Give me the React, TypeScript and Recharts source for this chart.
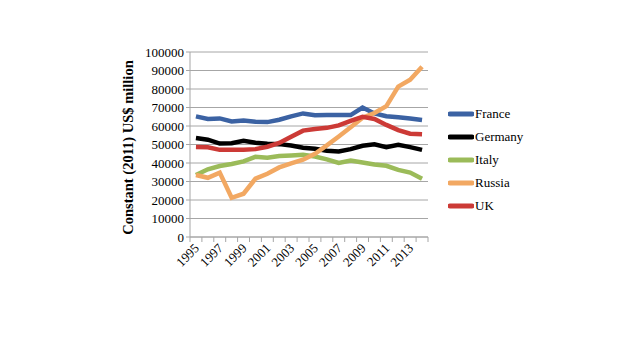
import React from 'react';
import { LineChart, Line, XAxis, YAxis, CartesianGrid, Legend } from 'recharts';

const years = [
  '1995', '1996', '1997', '1998', '1999', '2000', '2001', '2002', '2003', '2004',
  '2005', '2006', '2007', '2008', '2009', '2010', '2011', '2012', '2013', '2014',
];

const france = [65200, 63800, 64100, 62500, 63000, 62300, 62100, 63400, 65200, 66800, 65800, 65900, 66000, 65900, 70000, 66800, 65300, 64700, 64100, 63300];
const germany = [53500, 52600, 50500, 50700, 52000, 51000, 50400, 50200, 49500, 48300, 47700, 46600, 46200, 47500, 49300, 50100, 48600, 49800, 48600, 47100];
const italy = [33500, 36600, 38400, 39500, 40900, 43400, 42800, 43800, 44100, 44500, 43500, 42000, 40000, 41300, 40300, 39200, 38500, 36300, 34800, 31500];
const russia = [33500, 32000, 34800, 21200, 23400, 31500, 34200, 37600, 39800, 41800, 45000, 49500, 54300, 59300, 64500, 67000, 70700, 81300, 85000, 92000];
const uk = [48700, 48500, 47100, 47100, 47200, 47500, 48800, 50800, 54200, 57500, 58400, 59000, 60300, 62800, 65000, 63800, 60600, 57800, 55800, 55500];

const yTicks = [0, 10000, 20000, 30000, 40000, 50000, 60000, 70000, 80000, 90000, 100000];

const series = [
  { key: 'France', color: '#3b62a3' },
  { key: 'Germany', color: '#000000' },
  { key: 'Italy', color: '#9bbb59' },
  { key: 'Russia', color: '#f2a862' },
  { key: 'UK', color: '#cc3a36' },
];

const data = years.map((year, i) => ({
  year,
  France: france[i],
  Germany: germany[i],
  Italy: italy[i],
  Russia: russia[i],
  UK: uk[i],
}));

const FONT = '"Liberation Serif", serif';
const GRID = '#a6a6a6';
const STEP = 238 / 20;

function YearTick(props: any) {
  const { x, y, payload, index } = props;
  const half = STEP / 2;
  return (
    <g>
      <line x1={x - half} y1={y} x2={x - half} y2={y + 5} stroke={GRID} />
      {index === years.length - 1 && (
        <line x1={x + half} y1={y} x2={x + half} y2={y + 5} stroke={GRID} />
      )}
      {index % 2 === 0 && (
        <text
          x={x + 4}
          y={y + 12}
          transform={`rotate(-45, ${x + 4}, ${y + 12})`}
          textAnchor="end"
          fontFamily={FONT}
          fontSize={13}
          fill="#000"
        >
          {payload.value}
        </text>
      )}
    </g>
  );
}

function AxisTitle(props: any) {
  const { viewBox } = props;
  const cx = viewBox.x - 7;
  const cy = viewBox.y + viewBox.height / 2 + 3;
  return (
    <text
      x={cx}
      y={cy}
      transform={`rotate(-90, ${cx}, ${cy})`}
      textAnchor="middle"
      fontFamily={FONT}
      fontSize={14.5}
      fontWeight="bold"
      fill="#000"
    >
      Constant (2011) US$ million
    </text>
  );
}

function LegendBox() {
  return (
    <div style={{ fontFamily: FONT, fontSize: 13, color: '#000' }}>
      {series.map((s) => (
        <div key={s.key} style={{ display: 'flex', alignItems: 'center', height: 23 }}>
          <svg width={26} height={6} style={{ marginRight: 1 }}>
            <line x1={2} y1={3} x2={24} y2={3} stroke={s.color} strokeWidth={5} strokeLinecap="round" />
          </svg>
          <span>{s.key}</span>
        </div>
      ))}
    </div>
  );
}

export default function App() {
  return (
    <div style={{ position: 'absolute', left: 0, top: 0, width: 640, height: 360, background: '#fff' }}>
      <LineChart
        width={640}
        height={360}
        data={data}
        margin={{ top: 52, right: 212, bottom: 83, left: 140 }}
      >
        <CartesianGrid vertical={false} stroke={GRID} />
        <XAxis
          dataKey="year"
          interval={0}
          height={40}
          padding={{ left: STEP / 2, right: STEP / 2 }}
          axisLine={{ stroke: GRID }}
          tickLine={false}
          tickSize={0}
          tickMargin={0}
          tick={<YearTick />}
        />
        <YAxis
          width={50}
          domain={[0, 100000]}
          ticks={yTicks}
          interval={0}
          axisLine={{ stroke: GRID }}
          tickLine={{ stroke: GRID }}
          tickSize={4}
          tickMargin={2}
          tick={{ fontFamily: FONT, fontSize: 13, fill: '#000' }}
          label={<AxisTitle />}
        />
        <Legend
          layout="vertical"
          align="center"
          verticalAlign="middle"
          content={<LegendBox />}
          wrapperStyle={{ left: 448, top: 102, width: 120 }}
        />
        {series.map((s) => (
          <Line
            key={s.key}
            dataKey={s.key}
            type="linear"
            stroke={s.color}
            strokeWidth={4.5}
            dot={false}
            activeDot={false}
            isAnimationActive={false}
          />
        ))}
      </LineChart>
    </div>
  );
}
